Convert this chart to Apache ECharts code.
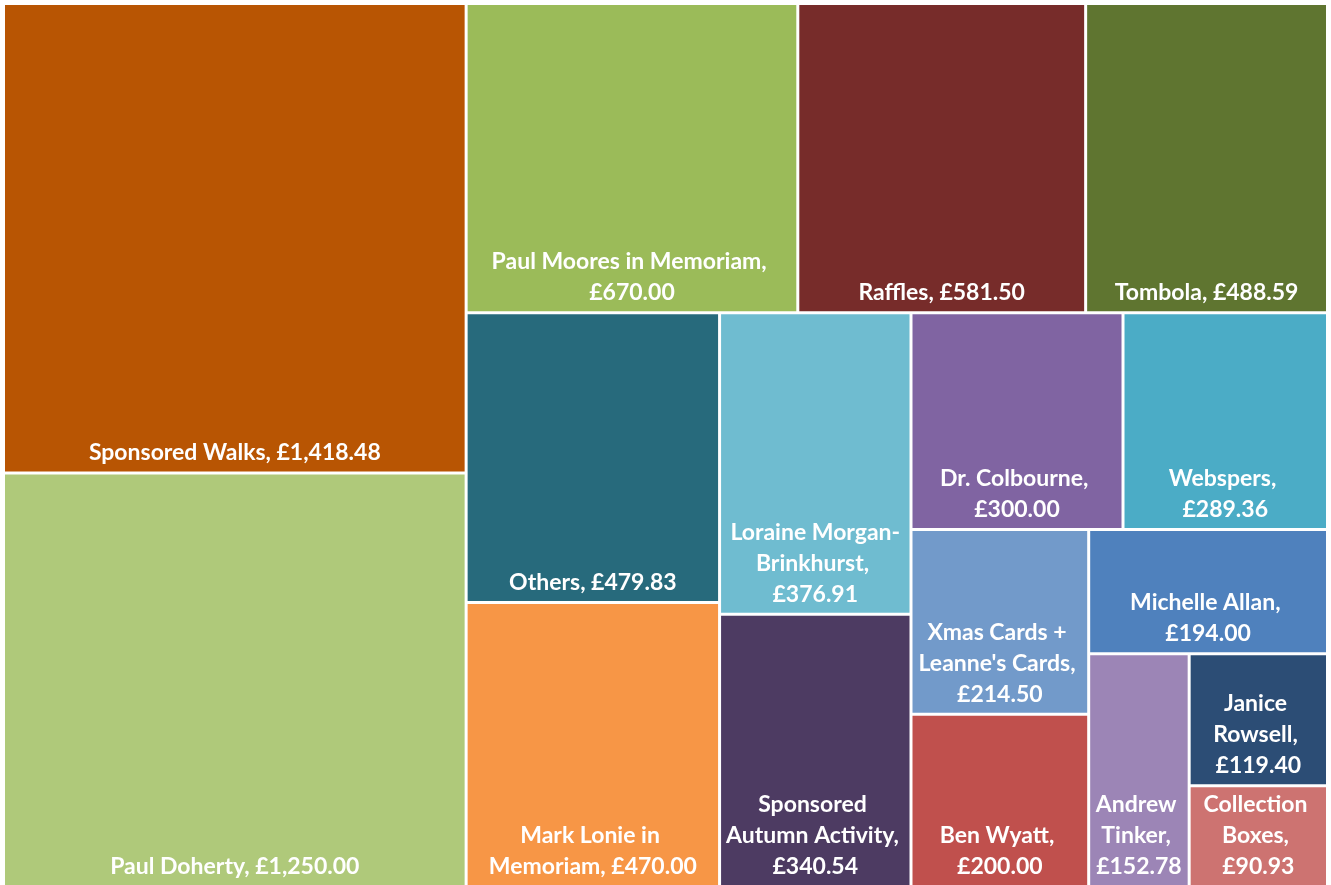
<!DOCTYPE html>
<html>
<head>
<meta charset="utf-8">
<script src="https://cdn.jsdelivr.net/npm/echarts@6/dist/echarts.min.js"></script>
<style>
html,body{margin:0;padding:0;background:#fff;}
#chart{width:1331px;height:885px;}
</style>
</head>
<body>
<div id="chart"></div>
<script>
const names = ["Sponsored Walks","Paul Doherty","Paul Moores in Memoriam","Raffles","Tombola","Others","Mark Lonie in Memoriam","Loraine Morgan-Brinkhurst","Sponsored Autumn Activity","Dr. Colbourne","Webspers","Xmas Cards + Leanne's Cards","Ben Wyatt","Michelle Allan","Andrew Tinker","Janice Rowsell","Collection Boxes"];
const values = [1418.48,1250.00,670.00,581.50,488.59,479.83,470.00,376.91,340.54,300.00,289.36,214.50,200.00,194.00,152.78,119.40,90.93];
const colors = ["#B85503","#AFC97A","#9BBB59","#772C2A","#5F7530","#276A7C","#F79646","#6FBCD0","#4D3B62","#8064A2","#4BACC6","#729ACA","#C0504D","#4F81BD","#9C85B6","#2C4D75","#CD7371"];

const fmt = v => '£' + v.toLocaleString('en-GB',{minimumFractionDigits:2,maximumFractionDigits:2});
const data = names.map((n,i)=>({name:n,value:values[i],itemStyle:{color:colors[i]}}));

const chart = echarts.init(document.getElementById('chart'));
chart.setOption({
  animation:false,
  series:[{
    type:'treemap',
    left:5, top:5, right:5, bottom:0,
    roam:false, nodeClick:false,
    breadcrumb:{show:false},
    squareRatio:0.8,
    data:data,
    levels:[{itemStyle:{gapWidth:3,borderWidth:0,borderColor:'#fff'}}],
    label:{
      show:true,
      position:'insideBottom',
      distance:3,
      padding:0,
      color:'#fff',
      fontFamily:'Lato',
      fontWeight:'bold',
      fontSize:23,
      lineHeight:31,
      align:'center',
      overflow:'break',
      formatter: p => (p.name + ', ' + fmt(p.value)).replace(/-/g,'-\n')
    },
    upperLabel:{show:false},
    itemStyle:{borderWidth:0,gapWidth:3}
  }]
});
</script>
</body>
</html>
